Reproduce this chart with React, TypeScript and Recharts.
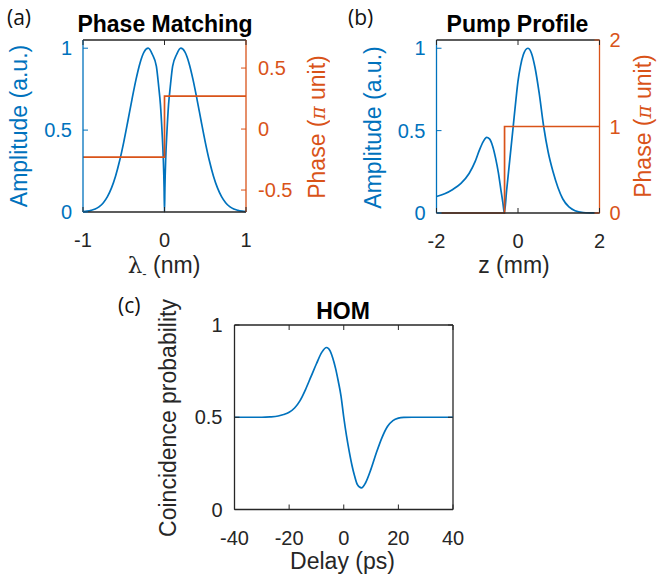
import { LineChart, Line, XAxis, YAxis, ReferenceLine } from "recharts";

const BLUE = "#0072BD";
const ORANGE = "#D95319";
const DARK = "#262626";
const SANS = "'Liberation Sans', Arial, Helvetica, sans-serif";
const TICK_FS = 20;
const LABEL_FS = 23;

// (a) Phase Matching
const lambdaNm = [
  -1, -0.95, -0.9, -0.85, -0.8, -0.75, -0.7, -0.65, -0.6, -0.55, -0.5, -0.45, -0.4, -0.35, -0.3, -0.25,
  -0.2, -0.15, -0.1, -0.07, -0.05, -0.03, -0.015, -0.005, 0, 0.005, 0.015, 0.03, 0.05, 0.07, 0.1, 0.15,
  0.2, 0.25, 0.3, 0.35, 0.4, 0.45, 0.5, 0.55, 0.6, 0.65, 0.7, 0.75, 0.8, 0.85, 0.9, 0.95, 1,
];
const pmAmplitude = [
  0.002, 0.005, 0.01, 0.018, 0.033, 0.057, 0.094, 0.147, 0.22, 0.314, 0.427, 0.554, 0.685, 0.808, 0.91, 0.977,
  1.0, 0.963, 0.89, 0.76, 0.657, 0.49, 0.33, 0.15, 0, 0.15, 0.33, 0.49, 0.657, 0.76, 0.89, 0.963,
  1.0, 0.977, 0.91, 0.808, 0.685, 0.554, 0.427, 0.314, 0.22, 0.147, 0.094, 0.057, 0.033, 0.018, 0.01, 0.005, 0.002,
];
const pmPhaseLambda = [-1, 0, 0, 1];
const pmPhase = [-0.23, -0.23, 0.27, 0.27];

// (b) Pump Profile
const zMm = [
  -2, -1.8, -1.6, -1.4, -1.2, -1.05, -0.95, -0.85, -0.77, -0.7, -0.62, -0.55, -0.48, -0.42, -0.37, -0.335,
  -0.28, -0.2, -0.12, -0.05, 0, 0.06, 0.13, 0.24, 0.33, 0.42, 0.52, 0.63, 0.74, 0.86, 0.98, 1.1, 1.25, 1.4,
  1.6, 1.8, 2,
];
const pumpAmplitude = [
  0.1, 0.117, 0.143, 0.18, 0.24, 0.313, 0.38, 0.435, 0.459, 0.45, 0.404, 0.333, 0.242, 0.141, 0.06, 0,
  0.135, 0.327, 0.52, 0.69, 0.8, 0.89, 0.96, 1.0, 0.97, 0.88, 0.727, 0.525, 0.37, 0.25, 0.155, 0.085, 0.037, 0.014,
  0.003, 0.001, 0,
];
const pumpPhaseZ = [-2, -0.33, -0.33, 2];
const pumpPhase = [0, 0, 1, 1];

// (c) HOM
const delayPs = [
  -40, -30, -27, -24, -22, -20, -18, -16, -14, -12, -10, -8, -6.3, -5, -4, -3, -2, -1, 0, 1, 2, 3, 4, 5,
  6.5, 8, 10, 12, 14, 16, 18, 20, 22, 25, 30, 40,
];
const coincidence = [
  0.5, 0.5, 0.502, 0.507, 0.515, 0.527, 0.55, 0.59, 0.65, 0.72, 0.79, 0.853, 0.878, 0.86, 0.82, 0.765, 0.695, 0.615,
  0.5, 0.4, 0.315, 0.24, 0.18, 0.135, 0.117, 0.145, 0.22, 0.31, 0.39, 0.45, 0.482, 0.495, 0.499, 0.5, 0.5, 0.5,
];

const ticksAx = [-1, 0, 1];
const ticksAl = [0, 0.5, 1];
const ticksAr = [-0.5, 0, 0.5];
const ticksBx = [-2, 0, 2];
const ticksBl = [0, 0.5, 1];
const ticksBr = [0, 1, 2];
const ticksCx = [-40, -20, 0, 20, 40];
const ticksCy = [0, 0.5, 1];

const toRows = (xs: number[], ys: number[]) => xs.map((x, i) => ({ x, y: ys[i] }));

function XTick(props: any) {
  const { x, y, payload, top } = props;
  return (
    <g>
      <line x1={x} x2={x} y1={y} y2={y - 5} stroke={DARK} />
      <line x1={x} x2={x} y1={top} y2={top + 5} stroke={DARK} />
      <text x={x} y={y + 35} textAnchor="middle" fill={DARK} fontSize={TICK_FS} fontFamily={SANS}>
        {payload.value}
      </text>
    </g>
  );
}

function YTick(props: any) {
  const { x, y, payload, color, side, gap, mirrorX } = props;
  const dir = side === "left" ? 1 : -1;
  return (
    <g>
      <line x1={x} x2={x + 5 * dir} y1={y} y2={y} stroke={color} />
      {mirrorX != null && <line x1={mirrorX} x2={mirrorX - 5} y1={y} y2={y} stroke={color} />}
      <text
        x={x - gap * dir}
        y={y + 7}
        textAnchor={side === "left" ? "end" : "start"}
        fill={color}
        fontSize={TICK_FS}
        fontFamily={SANS}
      >
        {payload.value}
      </text>
    </g>
  );
}

const yTitle = (x: number, y: number, color: string, content: any) => () => (
  <text
    transform={`translate(${x},${y}) rotate(-90)`}
    textAnchor="middle"
    fill={color}
    fontSize={LABEL_FS}
    fontFamily={SANS}
  >
    {content}
  </text>
);

const xTitle = (x: number, y: number, content: any) => () => (
  <text x={x} y={y} textAnchor="middle" fill={DARK} fontSize={LABEL_FS} fontFamily={SANS}>
    {content}
  </text>
);

const phaseText = (
  <>
    Phase (<tspan fontFamily="'DejaVu Serif', serif" fontStyle="italic" fontSize={20}>π</tspan> unit)
  </>
);

function PhaseMatching() {
  return (
    <LineChart width={330} height={290} margin={{ top: 40, right: 34, bottom: 48, left: 23 }}>
      <XAxis
        dataKey="x"
        type="number"
        domain={[-1, 1]}
        ticks={ticksAx}
        tickSize={0}
        tickMargin={0}
        height={30}
        axisLine={{ stroke: DARK, strokeWidth: 1.3 }}
        tick={(p: any) => <XTick {...p} top={40} />}
        label={xTitle(164, 273, (
          <>
            <tspan fontFamily="'DejaVu Serif', serif">λ</tspan>
            <tspan dy={5} fontSize={13}>-</tspan>
            <tspan dy={-5}> (nm)</tspan>
          </>
        ))}
      />
      <YAxis
        yAxisId="left"
        type="number"
        domain={[0, 1.05]}
        ticks={ticksAl}
        width={60}
        tickSize={0}
        tickMargin={0}
        axisLine={{ stroke: BLUE, strokeWidth: 1.3 }}
        tick={(p: any) => <YTick {...p} color={BLUE} side="left" gap={11} />}
        label={yTitle(26.5, 126, BLUE, "Amplitude (a.u.)")}
      />
      <YAxis
        yAxisId="right"
        orientation="right"
        type="number"
        domain={[-0.68, 0.73]}
        ticks={ticksAr}
        width={50}
        tickSize={0}
        tickMargin={0}
        axisLine={{ stroke: ORANGE, strokeWidth: 1.3 }}
        tick={(p: any) => <YTick {...p} color={ORANGE} side="right" gap={12} />}
        label={yTitle(325, 127, ORANGE, phaseText)}
      />
      <ReferenceLine yAxisId="left" y={1.05} stroke={DARK} strokeWidth={1.3} />
      <Line
        yAxisId="left"
        data={toRows(lambdaNm, pmAmplitude)}
        dataKey="y"
        type="monotone"
        stroke={BLUE}
        strokeWidth={1.7}
        dot={false}
        activeDot={false}
        isAnimationActive={false}
      />
      <Line
        yAxisId="right"
        data={toRows(pmPhaseLambda, pmPhase)}
        dataKey="y"
        type="linear"
        stroke={ORANGE}
        strokeWidth={1.7}
        dot={false}
        activeDot={false}
        isAnimationActive={false}
      />
    </LineChart>
  );
}

function PumpProfile() {
  return (
    <LineChart width={327} height={290} margin={{ top: 40, right: 7.5, bottom: 47, left: 46.5 }}>
      <XAxis
        dataKey="x"
        type="number"
        domain={[-2, 2]}
        ticks={ticksBx}
        tickSize={0}
        tickMargin={0}
        height={30}
        axisLine={{ stroke: DARK, strokeWidth: 1.3 }}
        tick={(p: any) => <XTick {...p} top={40} />}
        label={xTitle(184, 273, "z (mm)")}
      />
      <YAxis
        yAxisId="left"
        type="number"
        domain={[0, 1.05]}
        ticks={ticksBl}
        width={60}
        tickSize={0}
        tickMargin={0}
        axisLine={{ stroke: BLUE, strokeWidth: 1.3 }}
        tick={(p: any) => <YTick {...p} color={BLUE} side="left" gap={11} />}
        label={yTitle(51, 127.5, BLUE, "Amplitude (a.u.)")}
      />
      <YAxis
        yAxisId="right"
        orientation="right"
        type="number"
        domain={[0, 2]}
        ticks={ticksBr}
        width={50}
        tickSize={0}
        tickMargin={0}
        axisLine={{ stroke: ORANGE, strokeWidth: 1.3 }}
        tick={(p: any) => <YTick {...p} color={ORANGE} side="right" gap={10} />}
        label={yTitle(321, 126, ORANGE, phaseText)}
      />
      <ReferenceLine yAxisId="left" y={1.05} stroke={DARK} strokeWidth={1.3} />
      <Line
        yAxisId="left"
        data={toRows(zMm, pumpAmplitude)}
        dataKey="y"
        type="monotone"
        stroke={BLUE}
        strokeWidth={1.7}
        dot={false}
        activeDot={false}
        isAnimationActive={false}
      />
      <Line
        yAxisId="right"
        data={toRows(pumpPhaseZ, pumpPhase)}
        dataKey="y"
        type="linear"
        stroke={ORANGE}
        strokeWidth={1.7}
        dot={false}
        activeDot={false}
        isAnimationActive={false}
      />
    </LineChart>
  );
}

function Hom() {
  return (
    <LineChart width={400} height={288} margin={{ top: 35, right: 47, bottom: 38.5, left: 74.5 }}>
      <XAxis
        dataKey="x"
        type="number"
        domain={[-40, 40]}
        ticks={ticksCx}
        tickSize={0}
        tickMargin={0}
        height={30}
        axisLine={{ stroke: DARK, strokeWidth: 1.3 }}
        tick={(p: any) => <XTick {...p} top={35} />}
        label={xTitle(242.5, 279, "Delay (ps)")}
      />
      <YAxis
        type="number"
        domain={[0, 1]}
        ticks={ticksCy}
        width={60}
        tickSize={0}
        tickMargin={0}
        axisLine={{ stroke: DARK, strokeWidth: 1.3 }}
        tick={(p: any) => <YTick {...p} color={DARK} side="left" gap={12} mirrorX={353} />}
        label={yTitle(76, 128, DARK, "Coincidence probability")}
      />
      <ReferenceLine y={1} stroke={DARK} strokeWidth={1.3} />
      <ReferenceLine x={40} stroke={DARK} strokeWidth={1.3} />
      <Line
        data={toRows(delayPs, coincidence)}
        dataKey="y"
        type="monotone"
        stroke={BLUE}
        strokeWidth={1.7}
        dot={false}
        activeDot={false}
        isAnimationActive={false}
      />
    </LineChart>
  );
}

export default function App() {
  const letter = { fontFamily: "'Open Sans', sans-serif", fontSize: 21, fill: "#111" };
  const title = { fontFamily: SANS, fontSize: 23, fontWeight: 700, fill: "#000", textAnchor: "middle" as const };
  return (
    <div style={{ position: "absolute", left: 0, top: 0, width: 657, height: 578, background: "#fff" }}>
      <div style={{ position: "absolute", left: 0, top: 0 }}>
        <PhaseMatching />
      </div>
      <div style={{ position: "absolute", left: 330, top: 0 }}>
        <PumpProfile />
      </div>
      <div style={{ position: "absolute", left: 100, top: 290 }}>
        <Hom />
      </div>
      <svg
        width={657}
        height={578}
        style={{ position: "absolute", left: 0, top: 0, pointerEvents: "none" }}
      >
        <text x={7} y={25} {...letter}>(a)</text>
        <text x={348} y={25} {...letter}>(b)</text>
        <text x={118} y={313} {...letter}>(c)</text>
        <text x={165} y={32} {...title}>Phase Matching</text>
        <text x={517.5} y={32} {...title}>Pump Profile</text>
        <text x={343} y={318.5} {...title}>HOM</text>
      </svg>
    </div>
  );
}
